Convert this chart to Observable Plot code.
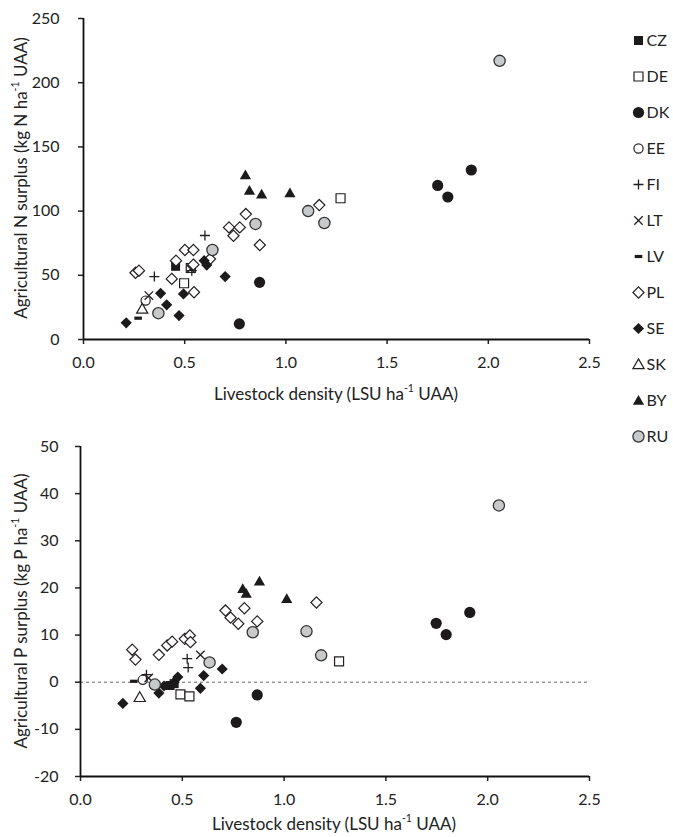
<!DOCTYPE html>
<html>
<head>
<meta charset="utf-8">
<script src="https://cdn.jsdelivr.net/npm/d3@7"></script>
<script src="https://cdn.jsdelivr.net/npm/@observablehq/plot@0.6"></script>
<style>
  body { margin: 0; background: #fff; }
  #wrap { position: relative; width: 673px; height: 837px; font-family: Lato, "Open Sans", sans-serif; color: #222; }
  .abs { position: absolute; }
  .title { position: absolute; white-space: nowrap; font-size: 17px; transform: translate(-50%, -50%); color: #222; }
  .ytitle { transform: translate(-50%, -50%) rotate(-90deg); }
  sup { font-size: 0.62em; position: relative; top: -0.15em; line-height: 0; }
</style>
</head>
<body>
<div id="wrap">
  <div id="topPanel" class="abs" style="left:0;top:0"></div>
  <div id="botPanel" class="abs" style="left:0;top:405px"></div>
  <div id="legPanel" class="abs" style="left:626px;top:0"></div>
  <div class="title ytitle" style="left:20px;top:178px">Agricultural N surplus (kg N ha<sup>-1</sup> UAA)</div>
  <div class="title" style="left:336px;top:393px">Livestock density (LSU ha<sup>-1</sup> UAA)</div>
  <div class="title ytitle" style="left:20px;top:611px">Agricultural P surplus (kg P ha<sup>-1</sup> UAA)</div>
  <div class="title" style="left:334px;top:823px">Livestock density (LSU ha<sup>-1</sup> UAA)</div>
</div>
<script>
// ---------- data ----------
const countries = ["CZ","DE","DK","EE","FI","LT","LV","PL","SE","SK","BY","RU"];
const xTicks = [0, 0.5, 1, 1.5, 2, 2.5];
const yTicksN = [0, 50, 100, 150, 200, 250];
const yTicksP = [-20, -10, 0, 10, 20, 30, 40, 50];

// N surplus panel
const nCountry = [
  "CZ",
  "DE","DE","DE",
  "DK","DK","DK","DK","DK",
  "EE",
  "FI","FI","FI",
  "LT","LT",
  "LV",
  "PL","PL","PL","PL","PL","PL","PL","PL","PL","PL","PL","PL","PL","PL","PL",
  "SE","SE","SE","SE","SE","SE","SE","SE",
  "SK",
  "BY","BY","BY","BY",
  "RU","RU","RU","RU","RU","RU"
];
const nDensity = [
  0.455,
  0.497, 0.53, 1.27,
  0.77, 0.87, 1.75, 1.80, 1.916,
  0.307,
  0.35, 0.535, 0.60,
  0.323, 0.53,
  0.27,
  0.257, 0.274, 0.436, 0.457, 0.501, 0.543, 0.543, 0.546, 0.625, 0.719, 0.741, 0.772, 0.802, 0.871, 1.165,
  0.211, 0.381, 0.411, 0.472, 0.494, 0.596, 0.609, 0.70,
  0.29,
  0.80, 0.82, 0.88, 1.02,
  0.37, 0.637, 0.85, 1.11, 1.19, 2.056
];
const nSurplus = [
  57,
  43.8, 55.7, 110,
  12.2, 44.5, 120, 111, 132,
  30.3,
  49, 53.6, 81,
  34.2, 55,
  16.6,
  52, 53.6, 47.2, 61.4, 69.7, 69.7, 58.3, 36.8, 62.7, 87.3, 80.8, 87.3, 97.7, 73.6, 104.7,
  13, 36, 27, 18.6, 35.5, 61.4, 58, 49,
  23.8,
  128, 116, 113, 114,
  20.5, 69.7, 90, 100, 90.7, 217
];

// P surplus panel
const pCountry = [
  "CZ","CZ",
  "DE","DE","DE",
  "DK","DK","DK","DK","DK",
  "EE",
  "FI","FI","FI",
  "LT","LT",
  "LV",
  "PL","PL","PL","PL","PL","PL","PL","PL","PL","PL","PL","PL","PL","PL",
  "SE","SE","SE","SE","SE","SE","SE","SE",
  "SK",
  "BY","BY","BY","BY",
  "RU","RU","RU","RU","RU","RU"
];
const pDensity = [
  0.44, 0.46,
  0.491, 0.535, 1.27,
  0.765, 0.868, 1.747, 1.796, 1.912,
  0.306,
  0.324, 0.524, 0.529,
  0.335, 0.589,
  0.262,
  0.254, 0.27, 0.385, 0.426, 0.45, 0.512, 0.537, 0.54, 0.712, 0.737, 0.775, 0.805, 0.868, 1.159,
  0.208, 0.385, 0.41, 0.46, 0.478, 0.589, 0.605, 0.696,
  0.291,
  0.797, 0.814, 0.879, 1.013,
  0.365, 0.634, 0.846, 1.11, 1.182, 2.055
];
const pSurplus = [
  -0.7, -0.3,
  -2.6, -3.0, 4.4,
  -8.5, -2.7, 12.5, 10.1, 14.8,
  0.5,
  1.6, 5.0, 3.1,
  0.9, 5.8,
  0.2,
  6.9, 4.8, 5.8, 7.8, 8.6, 9.2, 9.9, 8.5, 15.2, 13.7, 12.4, 15.7, 12.9, 16.9,
  -4.5, -2.3, -0.8, 0.0, 1.1, -1.3, 1.4, 2.8,
  -3.2,
  19.8, 18.8, 21.4, 17.7,
  -0.5, 4.2, 10.6, 10.8, 5.7, 37.5
];

// ---------- tables ----------
const nData = nCountry.map((c, i) => ({c, x: nDensity[i], y: nSurplus[i]}));
const pData = pCountry.map((c, i) => ({c, x: pDensity[i], y: pSurplus[i]}));

// ---------- marker styles ----------
const path = pts => ({draw(c) { c.moveTo(pts[0][0], pts[0][1]); for (let i = 1; i < pts.length; i++) c.lineTo(pts[i][0], pts[i][1]); c.closePath(); }});
const circ = r => ({draw(c) { c.moveTo(r, 0); c.arc(0, 0, r, 0, 2 * Math.PI); }});
const SQ = path([[-4.5,-4.5],[4.5,-4.5],[4.5,4.5],[-4.5,4.5]]);
const DIA = path([[0,-5.6],[5.6,0],[0,5.6],[-5.6,0]]);
const TRI = path([[0,-5.6],[5.6,4.2],[-5.6,4.2]]);
const DASH = path([[-3.8,-1.6],[3.8,-1.6],[3.8,1.6],[-3.8,1.6]]);
const PLUS = {draw(c) { c.moveTo(-5,0); c.lineTo(5,0); c.moveTo(0,-5); c.lineTo(0,5); }};
const TIMES = {draw(c) { c.moveTo(-4.2,-4.2); c.lineTo(4.2,4.2); c.moveTo(4.2,-4.2); c.lineTo(-4.2,4.2); }};
const BLACK = "#1c1a1b", LINE = "#231f20";
const style = {
  CZ: {symbol: SQ, fill: BLACK, stroke: "none", strokeWidth: 0},
  DE: {symbol: SQ, fill: "white", stroke: LINE, strokeWidth: 1.2},
  DK: {symbol: circ(5.6), fill: BLACK, stroke: "none", strokeWidth: 0},
  EE: {symbol: circ(4.6), fill: "white", stroke: LINE, strokeWidth: 1.2},
  FI: {symbol: PLUS, fill: "none", stroke: LINE, strokeWidth: 1.3},
  LT: {symbol: TIMES, fill: "none", stroke: LINE, strokeWidth: 1.3},
  LV: {symbol: DASH, fill: BLACK, stroke: "none", strokeWidth: 0},
  PL: {symbol: DIA, fill: "white", stroke: LINE, strokeWidth: 1.2},
  SE: {symbol: DIA, fill: BLACK, stroke: "none", strokeWidth: 0},
  SK: {symbol: TRI, fill: "white", stroke: LINE, strokeWidth: 1.2},
  BY: {symbol: TRI, fill: BLACK, stroke: "none", strokeWidth: 0},
  RU: {symbol: circ(5.6), fill: "#c8c9ca", stroke: "#333", strokeWidth: 1.3}
};
const dots = data => countries.map(k => Plot.dot(data.filter(d => d.c === k), {x: "x", y: "y", ...style[k]}));

const common = {
  width: 673,
  marginLeft: 83,
  marginRight: 84,
  style: {fontFamily: "Lato, 'Open Sans', sans-serif", fontSize: "16px", color: "#222", background: "white", overflow: "visible"}
};

// ---------- top panel ----------
const plotN = Plot.plot({
  ...common,
  height: 405,
  marginTop: 18,
  marginBottom: 66,
  x: {domain: [0, 2.5]},
  y: {domain: [0, 250]},
  marks: [
    Plot.axisX({ticks: xTicks, tickFormat: d3.format(".1f"), tickSize: 5, tickPadding: 12, label: null, strokeWidth: 1.5}),
    Plot.axisY({ticks: yTicksN, tickFormat: d => d, tickSize: 5, tickPadding: 19, label: null, strokeWidth: 1.5}),
    Plot.ruleX([0], {stroke: "#111", strokeWidth: 1.8}),
    Plot.ruleY([0], {stroke: "#111", strokeWidth: 1.8}),
    ...dots(nData)
  ]
});
document.getElementById("topPanel").append(plotN);

// ---------- bottom panel ----------
const plotP = Plot.plot({
  ...common,
  marginLeft: 80,
  height: 432,
  marginTop: 41,
  marginBottom: 61,
  x: {domain: [0, 2.5]},
  y: {domain: [-20, 50]},
  marks: [
    Plot.ruleY([0], {stroke: "#666", strokeWidth: 1, strokeDasharray: "3,3"}),
    Plot.axisX({ticks: xTicks, tickFormat: d3.format(".1f"), tickSize: 5, tickPadding: 12, label: null, strokeWidth: 1.5}),
    Plot.axisY({ticks: yTicksP, tickFormat: d => d, tickSize: 5, tickPadding: 17, label: null, strokeWidth: 1.5}),
    Plot.ruleX([0], {stroke: "#111", strokeWidth: 1.8}),
    Plot.ruleY([-20], {stroke: "#111", strokeWidth: 1.8}),
    ...dots(pData)
  ]
});
document.getElementById("botPanel").append(plotP);

// ---------- legend ----------
const plotLeg = Plot.plot({
  width: 47,
  height: 450,
  marginLeft: 12,
  marginRight: 0,
  marginTop: 0,
  marginBottom: 0,
  style: {fontFamily: "Lato, 'Open Sans', sans-serif", fontSize: "16px", color: "#222", background: "white"},
  y: {type: "point", domain: countries, range: [40, 436], padding: 0, axis: null},
  marks: [
    ...countries.map(k => Plot.dot([k], {y: d => d, frameAnchor: "left", ...style[k]})),
    Plot.text(countries, {y: d => d, text: d => d, frameAnchor: "left", dx: 8, textAnchor: "start", fontSize: 16, fill: "#222"})
  ]
});
document.getElementById("legPanel").append(plotLeg);
</script>
</body>
</html>
